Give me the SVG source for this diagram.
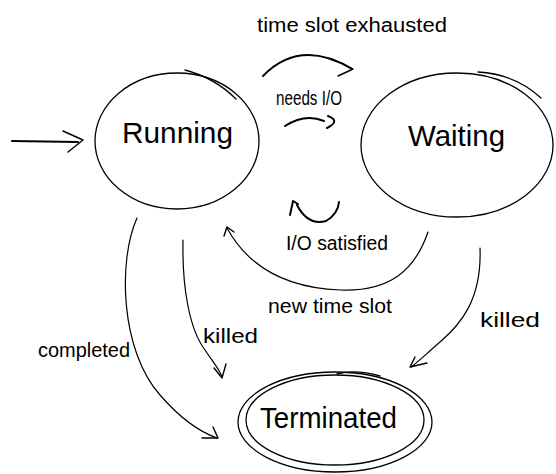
<svg xmlns="http://www.w3.org/2000/svg" width="556" height="474" viewBox="0 0 556 474">
<style>
.shape{fill:none;stroke:#000;stroke-width:1.3;stroke-linecap:round;stroke-linejoin:round}
.edge{fill:none;stroke:#000;stroke-width:1.2;stroke-linecap:round;stroke-linejoin:round}
.bold{stroke-width:2}
.head{fill:none;stroke:#000;stroke-width:1.4;stroke-linecap:round;stroke-linejoin:round}
text{font-family:"Liberation Sans",Arial,sans-serif;fill:#000}
.node{font-size:30px}
.lbl{font-size:20px}
</style>
<rect width="556" height="474" fill="#fff"/>
<g id="connectors">
  <g id="initial">
    <path class="edge bold" d="M12,141 L78,142"/>
    <path class="head bold" d="M63,131 L83,140 L68,152"/>
  </g>
  <g id="running-waiting">
    <path class="edge bold" d="M263,76 Q300,38 352,69"/>
    <path class="head bold" d="M342,63 L353,69 L338,76"/>
    <text class="lbl" x="257" y="32" font-size="21" textLength="190" lengthAdjust="spacingAndGlyphs">time slot exhausted</text>
    <path class="edge bold" d="M285,126 Q305,113 324,121"/>
    <path class="edge bold" d="M328,116 Q341,121 327,128"/>
    <text class="lbl" x="276" y="105" font-size="16" textLength="66" lengthAdjust="spacingAndGlyphs">needs I/O</text>
  </g>
  <g id="waiting-running">
    <path class="edge bold" d="M290,215 L293,201 L298,204"/>
    <path class="edge bold" d="M297,205 Q308,226 326,221 Q338,214 339,202"/>
    <text class="lbl" x="286" y="250" textLength="102" lengthAdjust="spacingAndGlyphs">I/O satisfied</text>
    <path class="edge" d="M428,232 C415,270 390,292 340,290 C290,288 250,270 227,228"/>
    <path class="head" d="M224,236 L227,227 L234,232"/>
    <text class="lbl" x="268" y="313" textLength="124" lengthAdjust="spacingAndGlyphs">new time slot</text>
  </g>
  <g id="running-terminated-completed">
    <path class="edge" d="M137,218 C118,260 120,350 160,395 C180,418 200,432 217,438"/>
    <path class="head" d="M213,427 L218,438 L202,438"/>
    <text class="lbl" x="38" y="357" font-size="21" textLength="92" lengthAdjust="spacingAndGlyphs">completed</text>
  </g>
  <g id="running-terminated-killed">
    <path class="edge" d="M183,240 C182,290 190,330 205,350 C213,362 220,370 222,377"/>
    <path class="head" d="M214,368 L222,378 L226,364"/>
    <text class="lbl" x="203" y="343" font-size="22" textLength="55" lengthAdjust="spacingAndGlyphs">killed</text>
  </g>
  <g id="waiting-terminated-killed">
    <path class="edge" d="M480,248 C482,300 460,325 440,342 C425,355 418,362 411,367"/>
    <path class="head" d="M415,357 L410,367 L427,363"/>
    <text class="lbl" x="480" y="327" font-size="22" textLength="60" lengthAdjust="spacingAndGlyphs">killed</text>
  </g>
</g>
<g id="running">
  <ellipse class="shape" cx="177" cy="141" rx="82" ry="68"/>
  <path class="shape" d="M185,70 Q215,78 236,99"/>
  <text class="node" x="122" y="143" textLength="111" lengthAdjust="spacingAndGlyphs">Running</text>
</g>
<g id="waiting">
  <ellipse class="shape" cx="457" cy="145" rx="96" ry="72"/>
  <path class="shape" d="M478,72 Q515,74 541,98"/>
  <text class="node" x="408" y="146" font-size="29" textLength="97" lengthAdjust="spacingAndGlyphs">Waiting</text>
</g>
<g id="terminated">
  <ellipse class="shape" cx="335" cy="422" rx="97" ry="50"/>
  <ellipse class="shape" cx="335" cy="420" rx="89" ry="45"/>
  <path class="shape" stroke-width="2.5" d="M337,374 Q355,369 380,376"/>
  <text class="node" x="260" y="428" font-size="27" textLength="137" lengthAdjust="spacingAndGlyphs">Terminated</text>
</g>
</svg>
